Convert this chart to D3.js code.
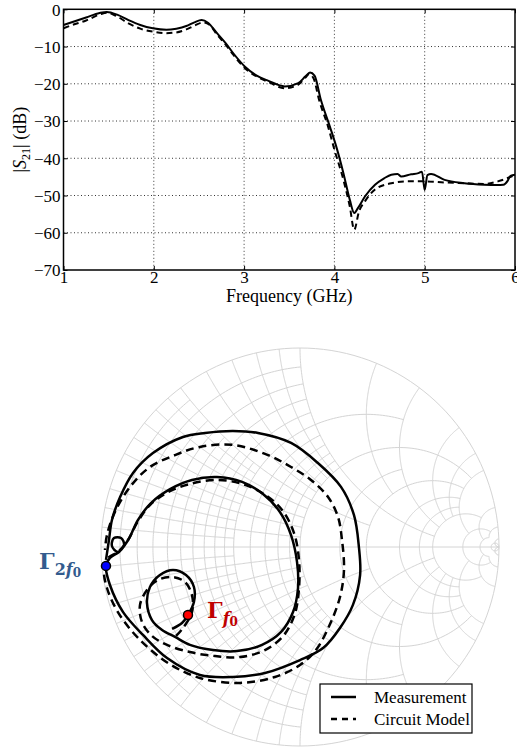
<!DOCTYPE html>
<html>
<head>
<meta charset="utf-8">
<script src="https://cdn.jsdelivr.net/npm/d3@7"></script>
<style>
body { margin: 0; background: #fff; }
svg text { font-family: "Liberation Serif", "Times New Roman", serif; }
svg text.gamma { font-family: "DejaVu Serif", serif; }
</style>
</head>
<body>
<div id="chart"></div>
<script>
// ---- |S21| data (GHz, dB) ----
var freqMeas = [1.0, 1.1, 1.25, 1.4, 1.48, 1.6, 1.72, 1.85, 1.99, 2.14, 2.25, 2.36, 2.45, 2.53, 2.6, 2.7, 2.8, 2.88, 3.01, 3.14, 3.27, 3.45, 3.6, 3.68, 3.73, 3.78, 3.85, 3.95, 4.02, 4.10, 4.17, 4.22, 4.26, 4.34, 4.45, 4.55, 4.63, 4.7, 4.74, 4.85, 4.93, 4.97, 5.0, 5.03, 5.07, 5.22, 5.44, 5.66, 5.8, 5.87, 5.92, 5.95, 6.0];
var s21Meas = [-4.2, -3.4, -2.2, -1.0, -0.7, -1.5, -2.9, -4.2, -5.1, -5.5, -5.2, -4.5, -3.5, -2.9, -3.6, -6.4, -9.2, -11.8, -15.4, -17.8, -19.2, -20.7, -19.8, -18.0, -17.0, -17.8, -24.3, -31.5, -36.8, -44.0, -51.1, -54.7, -53.4, -50.2, -47.1, -45.4, -44.4, -44.2, -44.9, -44.3, -44.0, -43.6, -48.5, -44.5, -44.2, -45.8, -46.7, -47.1, -47.2, -47.1, -46.0, -44.7, -44.4];
var freqModel = [1.0, 1.1, 1.25, 1.4, 1.48, 1.6, 1.72, 1.85, 1.99, 2.14, 2.25, 2.36, 2.45, 2.55, 2.62, 2.7, 2.8, 2.88, 3.01, 3.15, 3.27, 3.45, 3.6, 3.68, 3.72, 3.77, 3.83, 3.93, 4.0, 4.10, 4.17, 4.22, 4.27, 4.34, 4.45, 4.63, 4.81, 5.0, 5.22, 5.44, 5.66, 5.81, 5.9, 5.96, 6.0];
var s21Model = [-5.1, -4.2, -3.0, -1.4, -0.9, -2.0, -3.8, -5.2, -6.0, -6.4, -6.2, -5.4, -4.4, -3.5, -4.2, -6.8, -9.6, -12.2, -15.8, -18.2, -19.5, -21.2, -20.2, -18.3, -17.4, -18.6, -24.3, -31.5, -37.7, -45.8, -52.9, -59.2, -54.5, -51.5, -48.4, -46.7, -46.2, -46.2, -46.5, -46.7, -46.9, -46.2, -45.5, -44.9, -44.6];
var xTicks = [1, 2, 3, 4, 5, 6];
var yTicks = [0, -10, -20, -30, -40, -50, -60, -70];

// ---- reflection coefficient data (Re, Im of Gamma) ----
var gMeasRe = [-0.643, -0.593, -0.563, -0.533, -0.533, -0.573, -0.638, -0.704, -0.754, -0.769, -0.744, -0.693, -0.628, -0.553, -0.437, -0.317, -0.191, -0.095, -0.035, -0.010, -0.015, -0.045, -0.101, -0.186, -0.291, -0.417, -0.543, -0.653, -0.749, -0.814, -0.864, -0.915, -0.945, -0.935, -0.899, -0.884, -0.910, -0.955, -0.975, -0.955, -0.889, -0.789, -0.668, -0.503, -0.337, -0.176, 0.000, 0.116, 0.201, 0.266, 0.302, 0.296, 0.271, 0.206, 0.090, -0.045, -0.211, -0.337, -0.477, -0.588, -0.739, -0.839, -0.904, -0.945, -0.960, -0.975];
var gMeasIm = [-0.412, -0.382, -0.342, -0.276, -0.201, -0.141, -0.116, -0.141, -0.201, -0.281, -0.367, -0.417, -0.452, -0.492, -0.518, -0.523, -0.492, -0.427, -0.327, -0.206, -0.075, 0.060, 0.176, 0.266, 0.327, 0.352, 0.337, 0.291, 0.221, 0.136, 0.035, -0.025, 0.005, 0.045, 0.045, 0.010, -0.025, -0.055, -0.095, -0.191, -0.327, -0.442, -0.558, -0.643, -0.653, -0.633, -0.568, -0.508, -0.407, -0.291, -0.141, 0.000, 0.161, 0.302, 0.422, 0.523, 0.573, 0.583, 0.573, 0.553, 0.472, 0.372, 0.251, 0.136, 0.035, -0.065];
var gModelRe = [-0.623, -0.588, -0.543, -0.543, -0.578, -0.638, -0.714, -0.769, -0.804, -0.794, -0.744, -0.668, -0.553, -0.427, -0.302, -0.176, -0.080, -0.025, -0.005, -0.005, -0.030, -0.090, -0.181, -0.291, -0.417, -0.553, -0.663, -0.754, -0.819, -0.864, -0.915, -0.965, -0.985, -0.970, -0.915, -0.814, -0.663, -0.503, -0.302, -0.126, 0.000, 0.080, 0.151, 0.201, 0.221, 0.211, 0.191, 0.141, 0.055, -0.045, -0.161, -0.337, -0.503, -0.628, -0.754, -0.854, -0.930, -0.970, -0.980];
var gModelIm = [-0.447, -0.407, -0.327, -0.241, -0.176, -0.151, -0.166, -0.216, -0.291, -0.377, -0.447, -0.492, -0.528, -0.548, -0.553, -0.518, -0.442, -0.332, -0.206, -0.065, 0.070, 0.186, 0.266, 0.317, 0.337, 0.317, 0.276, 0.211, 0.121, 0.035, -0.025, -0.055, -0.116, -0.206, -0.327, -0.457, -0.583, -0.658, -0.683, -0.653, -0.593, -0.518, -0.387, -0.251, -0.116, 0.035, 0.151, 0.251, 0.337, 0.402, 0.462, 0.513, 0.503, 0.462, 0.402, 0.302, 0.176, 0.060, -0.015];
var gammaF0 = [-0.563, -0.342];
var gamma2F0 = [-0.975, -0.095];
var seriesNames = ["Measurement", "Circuit Model"];

var width = 517, height = 749;
var svg = d3.select("#chart").append("svg")
    .attr("width", width)
    .attr("height", height);

// ================= top plot =================
var xScale = d3.scaleLinear().domain([1, 6]).range([63.5, 515]);
var yScale = d3.scaleLinear().domain([-70, 0]).range([270, 9.3]);

var plotTop = svg.append("g").attr("class", "top-plot");

// dotted grid
plotTop.selectAll("line.vgrid").data(xTicks.slice(1, -1)).enter().append("line")
    .attr("x1", function (d) { return xScale(d); }).attr("x2", function (d) { return xScale(d); })
    .attr("y1", yScale(0)).attr("y2", yScale(-70))
    .attr("stroke", "#000").attr("stroke-width", 0.8).attr("stroke-dasharray", "1,2.5");
plotTop.selectAll("line.hgrid").data(yTicks.slice(1, -1)).enter().append("line")
    .attr("x1", xScale(1)).attr("x2", xScale(6))
    .attr("y1", function (d) { return yScale(d); }).attr("y2", function (d) { return yScale(d); })
    .attr("stroke", "#000").attr("stroke-width", 0.8).attr("stroke-dasharray", "1,2.5");

var fmt = function (d) { return d < 0 ? "\u2212" + Math.abs(d) : "" + d; };

plotTop.append("g")
    .attr("transform", "translate(0," + yScale(-70) + ")")
    .call(d3.axisBottom(xScale).tickValues(xTicks).tickSizeInner(-4).tickSizeOuter(0).tickPadding(1).tickFormat(fmt))
    .call(function (g) { g.select(".domain").remove(); g.selectAll("text").attr("font-size", 17).attr("fill", "#000"); });
plotTop.append("g")
    .attr("transform", "translate(" + xScale(1) + ",0)")
    .call(d3.axisLeft(yScale).tickValues(yTicks).tickSizeInner(-4).tickSizeOuter(0).tickPadding(3).tickFormat(fmt))
    .call(function (g) { g.select(".domain").remove(); g.selectAll("text").attr("font-size", 17).attr("fill", "#000").attr("dy", "0.35em"); });
plotTop.append("g")
    .attr("transform", "translate(0," + yScale(0) + ")")
    .call(d3.axisTop(xScale).tickValues(xTicks).tickSizeInner(-4).tickSizeOuter(0).tickFormat(""))
    .call(function (g) { g.select(".domain").remove(); });
plotTop.append("g")
    .attr("transform", "translate(" + xScale(6) + ",0)")
    .call(d3.axisRight(yScale).tickValues(yTicks).tickSizeInner(-4).tickSizeOuter(0).tickFormat(""))
    .call(function (g) { g.select(".domain").remove(); });

var lineTop = d3.line()
    .x(function (d) { return xScale(d[0]); })
    .y(function (d) { return yScale(d[1]); })
    .curve(d3.curveMonotoneX);

plotTop.append("path")
    .datum(d3.zip(freqModel, s21Model))
    .attr("d", lineTop).attr("fill", "none").attr("stroke", "#000")
    .attr("stroke-width", 2).attr("stroke-dasharray", "6,4");
plotTop.append("path")
    .datum(d3.zip(freqMeas, s21Meas))
    .attr("d", lineTop).attr("fill", "none").attr("stroke", "#000")
    .attr("stroke-width", 2);

plotTop.append("rect")
    .attr("x", xScale(1)).attr("y", yScale(0))
    .attr("width", xScale(6) - xScale(1)).attr("height", yScale(-70) - yScale(0))
    .attr("fill", "none").attr("stroke", "#000").attr("stroke-width", 1.5);

plotTop.append("text")
    .attr("x", (xScale(1) + xScale(6)) / 2).attr("y", 302)
    .attr("text-anchor", "middle").attr("font-size", 18)
    .text("Frequency (GHz)");

var ylab = plotTop.append("text")
    .attr("transform", "translate(26," + (yScale(-35)) + ") rotate(-90)")
    .attr("text-anchor", "middle").attr("font-size", 18);
ylab.append("tspan").text("|");
ylab.append("tspan").attr("font-style", "italic").text("S");
ylab.append("tspan").attr("font-size", 12).attr("dy", 4).text("21");
ylab.append("tspan").attr("dy", -4).text("| (dB)");

// ================= Smith chart =================
var cx = 300, cy = 547, R = 199;
var gx = d3.scaleLinear().domain([-1, 1]).range([cx - R, cx + R]);
var gy = d3.scaleLinear().domain([-1, 1]).range([cy + R, cy - R]);

function gam(r, x) {
    var d = (r + 1) * (r + 1) + x * x;
    return [(r * r + x * x - 1) / d, 2 * x / d];
}

// grid density tiers: [limit, step]
var tiers = [[0.5, 0.05], [1, 0.1], [2, 0.5], [5, 1], [10, 5], [20, 10], [Infinity, 50]];
function isMult(v, s) { var q = v / s; return Math.abs(q - Math.round(q)) < 1e-6; }
var gridVals = [];
tiers.forEach(function (t) {
    for (var i = 1; t[1] * i <= Math.min(t[0], 50) + 1e-9; i++) {
        var v = +(t[1] * i).toFixed(3);
        if (gridVals.indexOf(v) < 0) gridVals.push(v);
    }
});
function reach(v) {
    var e = 0;
    tiers.forEach(function (t) { if (v <= t[0] + 1e-9 && isMult(v, t[1])) e = t[0]; });
    return e;
}
function rPoints(r, X) {
    var c = r / (1 + r), rho = 1 / (1 + r), phi = 0;
    if (isFinite(X)) { var g = gam(r, X); phi = Math.atan2(g[1], g[0] - c); }
    var pts = [];
    for (var i = 0; i <= 160; i++) {
        var a = phi + (2 * Math.PI - 2 * phi) * i / 160;
        pts.push([c + rho * Math.cos(a), rho * Math.sin(a)]);
    }
    return pts;
}
function xPoints(x, Rm, sign) {
    var c = 1 / x, rho = 1 / x;
    var g0 = gam(0, x);
    var b0 = Math.atan2(g0[1] - c, g0[0] - 1); if (b0 < 0) b0 += 2 * Math.PI;
    var b1 = 1.5 * Math.PI;
    if (isFinite(Rm)) {
        var g1 = gam(Rm, x);
        b1 = Math.atan2(g1[1] - c, g1[0] - 1); if (b1 < 0) b1 += 2 * Math.PI;
    }
    var pts = [];
    for (var i = 0; i <= 160; i++) {
        var a = b0 + (b1 - b0) * i / 160;
        pts.push([1 + rho * Math.cos(a), sign * (c + rho * Math.sin(a))]);
    }
    return pts;
}

var smithLine = d3.line()
    .x(function (d) { return gx(d[0]); })
    .y(function (d) { return gy(d[1]); });

var smith = svg.append("g").attr("class", "smith");
var gridG = smith.append("g").attr("fill", "none").attr("stroke", "#d4d4d4").attr("stroke-width", 1);

gridVals.forEach(function (v) {
    var e = reach(v);
    gridG.append("path").attr("d", smithLine(rPoints(v, e)));
    gridG.append("path").attr("d", smithLine(xPoints(v, e, 1)));
    gridG.append("path").attr("d", smithLine(xPoints(v, e, -1)));
});
gridG.append("path").attr("d", smithLine(rPoints(0, Infinity)));
gridG.append("line")
    .attr("x1", gx(-1)).attr("x2", gx(1)).attr("y1", gy(0)).attr("y2", gy(0));

var curveSmith = d3.line()
    .x(function (d) { return gx(d[0]); })
    .y(function (d) { return gy(d[1]); })
    .curve(d3.curveCatmullRom.alpha(0.5));

smith.append("path")
    .datum(d3.zip(gModelRe, gModelIm))
    .attr("d", curveSmith).attr("fill", "none").attr("stroke", "#000")
    .attr("stroke-width", 2.5).attr("stroke-dasharray", "8,5");
smith.append("path")
    .datum(d3.zip(gMeasRe, gMeasIm))
    .attr("d", curveSmith).attr("fill", "none").attr("stroke", "#000")
    .attr("stroke-width", 2.5);

smith.append("circle")
    .attr("cx", gx(gamma2F0[0])).attr("cy", gy(gamma2F0[1])).attr("r", 4.5)
    .attr("fill", "#0000ff").attr("stroke", "#000").attr("stroke-width", 1.5);
smith.append("circle")
    .attr("cx", gx(gammaF0[0])).attr("cy", gy(gammaF0[1])).attr("r", 4.5)
    .attr("fill", "#ff0000").attr("stroke", "#000").attr("stroke-width", 1.5);

var lab2 = smith.append("text").attr("class", "gamma")
    .attr("x", 39).attr("y", 569)
    .attr("font-size", 22)
    .attr("font-weight", "bold").attr("fill", "#335b8e");
lab2.append("tspan").text("\u0393");
lab2.append("tspan").attr("font-size", 16).attr("dy", 6).text("2");
lab2.append("tspan").attr("font-size", 16).attr("font-style", "italic").text("f");
lab2.append("tspan").attr("font-size", 12).attr("dy", 2).text("0");

var lab1 = smith.append("text").attr("class", "gamma")
    .attr("x", 207).attr("y", 618)
    .attr("font-size", 22)
    .attr("font-weight", "bold").attr("fill", "#c00000");
lab1.append("tspan").text("\u0393");
lab1.append("tspan").attr("font-size", 16).attr("font-style", "italic").attr("dy", 6).text("f");
lab1.append("tspan").attr("font-size", 12).attr("dy", 2).text("0");

// legend
var legend = smith.append("g").attr("transform", "translate(320,684)");
legend.append("rect").attr("width", 152).attr("height", 49)
    .attr("fill", "#fff").attr("stroke", "#000").attr("stroke-width", 1.2);
seriesNames.forEach(function (name, i) {
    var yy = 13 + i * 22;
    legend.append("line").attr("x1", 11).attr("x2", 36).attr("y1", yy).attr("y2", yy)
        .attr("stroke", "#000").attr("stroke-width", 2.5)
        .attr("stroke-dasharray", i === 1 ? "6,5" : null);
    legend.append("text").attr("x", 54).attr("y", yy).attr("dy", "0.35em")
        .attr("font-size", 17).text(name);
});
</script>
</body>
</html>
